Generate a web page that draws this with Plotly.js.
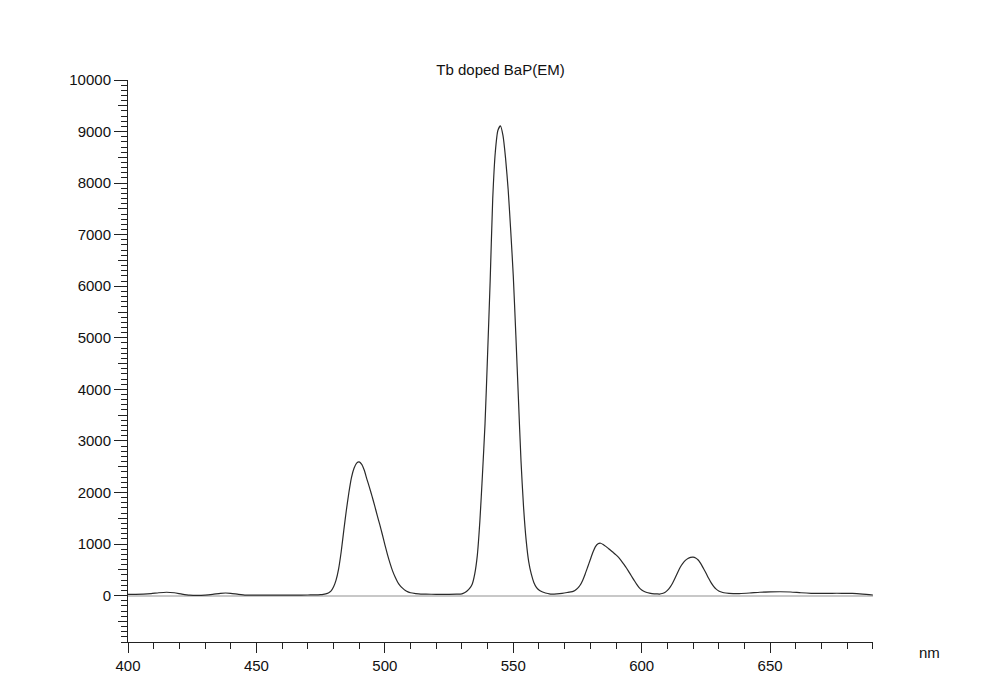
<!DOCTYPE html>
<html>
<head>
<meta charset="utf-8">
<script src="https://cdn.plot.ly/plotly-3.0.1.min.js"></script>
<style>
  html, body { margin: 0; padding: 0; background: #fff; }
  #chart { width: 1000px; height: 694px; }
</style>
</head>
<body>
<div id="chart"></div>
<script>
// Emission spectrum of Tb doped BaP (EM)
const wavelength_nm = [
  400, 403, 406, 409, 412, 415, 418, 421, 424, 427, 430, 433, 436, 438, 440, 443, 446, 450, 455, 460, 465,
  470, 472, 474, 475, 476, 477, 478, 479, 480, 481, 482, 483, 484, 485, 486, 487, 488, 489, 490,
  491, 492, 493, 494, 495, 496, 497, 498, 499, 500, 501, 502, 503, 504, 505, 506, 507, 508, 509, 510,
  512, 514, 516, 520, 525, 528,
  530, 531, 532, 533, 534, 535, 536, 537, 538, 539, 540, 541, 542, 543, 544, 545, 546, 547, 548, 549,
  550, 551, 552, 553, 554, 555, 556, 557, 558, 559, 560, 561, 562, 563, 564, 565,
  567, 569, 571, 573, 574, 575, 576, 577, 578, 579, 580, 581, 582, 583, 584, 585, 586, 587, 588, 589,
  590, 591, 592, 593, 594, 595, 596, 597, 598, 599, 600, 601, 602, 603, 604, 606, 607, 608, 609,
  610, 611, 612, 613, 614, 615, 616, 617, 618, 619, 620, 621, 622, 623, 624, 625, 626, 627, 628, 629,
  630, 631, 632, 634, 638, 642, 646, 650, 654, 658, 662, 666, 670, 674, 678, 682, 686, 690
];
const intensity = [
  25, 25, 28, 38, 55, 65, 55, 30, 10, 5, 10, 25, 45, 50, 45, 25, 10, 8, 8, 8, 10,
  12, 13, 15, 18, 24, 34, 50, 85, 165, 300, 520, 850, 1260, 1650, 2000, 2290, 2470, 2570, 2595,
  2545, 2430, 2260, 2100, 1930, 1750, 1560, 1380, 1190, 990, 800, 630, 480, 360, 260, 190, 140, 100, 72, 55,
  40, 30, 28, 25, 25, 28,
  35, 55, 90, 140, 220, 420, 780, 1450, 2350, 3330, 4680, 6100, 7700, 8600, 9020, 9110, 8920, 8480, 7880, 7080,
  6200, 5050, 3820, 2620, 1720, 1080, 660, 420, 255, 160, 110, 80, 60, 45, 35, 30,
  35, 45, 60, 78, 100, 140, 200, 295, 420, 560, 700, 840, 950, 1005, 1015, 990, 955, 915, 875, 832,
  790, 740, 680, 610, 540, 460, 380, 300, 222, 155, 110, 80, 60, 48, 40, 32, 30, 40, 60,
  100, 160, 240, 340, 450, 550, 625, 683, 720, 740, 745, 730, 690, 620, 530, 440, 340, 252, 180, 125,
  90, 70, 55, 45, 40, 50, 65, 72, 75, 70, 55, 45, 42, 45, 45, 42, 30, 12
];

const xTickVals = [400, 450, 500, 550, 600, 650];
const xTickText = ['400', '450', '500', '550', '600', '650'];
const yTickVals = [0, 1000, 2000, 3000, 4000, 5000, 6000, 7000, 8000, 9000, 10000];
const yTickText = ['0', '1000', '2000', '3000', '4000', '5000', '6000', '7000', '8000', '9000', '10000'];
const yHalfTicks = [-500, 500, 1500, 2500, 3500, 4500, 5500, 6500, 7500, 8500, 9500];

const chartTitle = 'Tb doped BaP(EM)';
const xUnit = 'nm';

const fontFam = 'Liberation Sans, Arial, sans-serif';

const trace = {
  x: wavelength_nm,
  y: intensity,
  type: 'scatter',
  mode: 'lines',
  line: { color: '#2a2a2a', width: 1.2, shape: 'spline', smoothing: 0.6 },
  hoverinfo: 'x+y',
  showlegend: false
};

const layout = {
  width: 1000,
  height: 694,
  margin: { l: 128, r: 127, t: 80, b: 52, pad: 0 },
  paper_bgcolor: '#ffffff',
  plot_bgcolor: '#ffffff',
  font: { family: fontFam, size: 15, color: '#111' },
  title: {
    text: chartTitle,
    font: { family: fontFam, size: 15, color: '#111' },
    x: 0.5, xref: 'paper', xanchor: 'center',
    y: 1 - 70 / 694, yref: 'container', yanchor: 'middle'
  },
  xaxis: {
    range: [400, 690.05],
    tickmode: 'array',
    tickvals: xTickVals,
    ticktext: xTickText,
    ticks: 'outside',
    ticklen: 10,
    tickwidth: 1,
    tickcolor: '#222',
    showline: true,
    linecolor: '#222',
    linewidth: 1,
    showgrid: false,
    zeroline: false,
    tickfont: { family: fontFam, size: 15, color: '#111' },
    minor: { dtick: 10, tick0: 400, ticks: 'outside', ticklen: 6, tickcolor: '#222', tickwidth: 1, showgrid: false }
  },
  yaxis: {
    range: [-900, 10000],
    tickmode: 'array',
    tickvals: yTickVals,
    ticktext: yTickText,
    ticks: 'outside',
    ticklen: 13,
    tickwidth: 1,
    tickcolor: '#222',
    showline: true,
    linecolor: '#222',
    linewidth: 1,
    showgrid: false,
    zeroline: true,
    zerolinecolor: '#c8c8c8',
    zerolinewidth: 2,
    tickfont: { family: fontFam, size: 15, color: '#111' },
    minor: { dtick: 100, tick0: 0, ticks: 'outside', ticklen: 6, tickcolor: '#222', tickwidth: 1, showgrid: false }
  },
  yaxis2: {
    overlaying: 'y',
    side: 'left',
    range: [-900, 10000],
    tickmode: 'array',
    tickvals: yHalfTicks,
    ticks: 'outside',
    ticklen: 9,
    tickwidth: 1,
    tickcolor: '#222',
    showticklabels: false,
    showline: false,
    showgrid: false,
    zeroline: false,
    fixedrange: true
  },
  annotations: [
    {
      text: xUnit,
      xref: 'paper', yref: 'paper',
      x: (929 - 128) / 745, y: -(652 - 641.7) / 562,
      xanchor: 'center', yanchor: 'middle',
      showarrow: false,
      font: { family: fontFam, size: 15, color: '#111' }
    }
  ]
};

const dummy = { x: [400], y: [0], yaxis: 'y2', type: 'scatter', mode: 'markers', marker: { opacity: 0 }, hoverinfo: 'skip', showlegend: false };

Plotly.newPlot('chart', [trace, dummy], layout, { staticPlot: true, displayModeBar: false });
</script>
</body>
</html>
